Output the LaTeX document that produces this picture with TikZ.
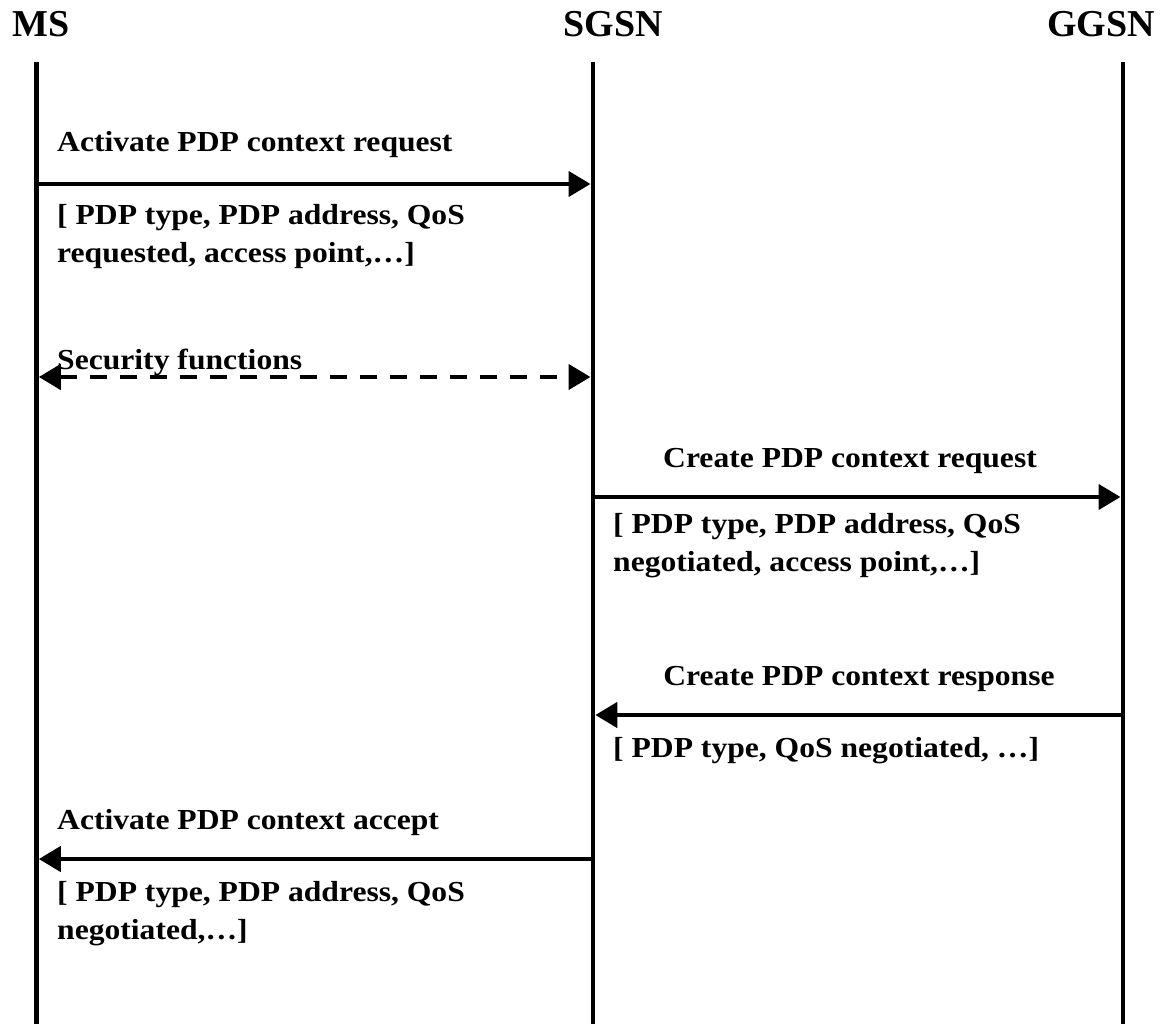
\documentclass[tikz,border=0pt]{standalone}
\usepackage{fontspec}
\setmainfont{Liberation Serif}
\newfontfamily\msgfont{Liberation Serif}[FakeStretch=1.09]
\usetikzlibrary{arrows.meta}
\begin{document}
\begin{tikzpicture}[x=1pt,y=-1pt,
  lifeline/.style={line width=4.5pt},
  head/.style={inner sep=0pt,anchor=base,font=\fontsize{38}{40}\selectfont\bfseries},
  lbl/.style={inner sep=0pt,anchor=base west,align=left,font=\msgfont\fontsize{29}{38}\selectfont\bfseries},
  clbl/.style={lbl,anchor=base},
  msg/.style={line width=4.5pt,-{Triangle[length=22pt,width=25pt]}},
  dmsg/.style={line width=4.5pt,dash pattern=on 17pt off 13pt,{Triangle[length=22pt,width=25pt]}-{Triangle[length=22pt,width=25pt]}}
]
\useasboundingbox (0,0) rectangle (1166,1024);

% entities
\node[head,anchor=base west] (msHead) at (12,37) {MS};
\node[head] (sgsnHead) at (613,37) {SGSN};
\node[head] (ggsnHead) at (1101,37) {GGSN};

% lifelines
\coordinate (msTop) at (36.5,62);   \coordinate (msBot) at (36.5,1024);
\coordinate (sgTop) at (593,62);    \coordinate (sgBot) at (593,1024);
\coordinate (ggTop) at (1123,62);   \coordinate (ggBot) at (1123,1024);
\draw[lifeline] (msTop) -- (msBot);
\draw[lifeline] (sgTop) -- (sgBot);
\draw[lifeline] (ggTop) -- (ggBot);

% message end points on the lifelines
\coordinate (m1a) at (36.5,184);  \coordinate (m1b) at (590.5,184);
\coordinate (m2a) at (38.8,377);  \coordinate (m2b) at (590.5,377);
\coordinate (m3a) at (593,497);   \coordinate (m3b) at (1120.5,497);
\coordinate (m4a) at (1123,715);  \coordinate (m4b) at (595.3,715);
\coordinate (m5a) at (593,859);   \coordinate (m5b) at (38.8,859);

% Activate PDP context request (two-line nodes sit on the baseline of their last line)
\node[lbl] (m1lbl) at (57,152) {Activate PDP context request};
\draw[msg] (m1a) -- (m1b);
\node[lbl] (m1par) at (57,262) {[ PDP type, PDP address, QoS\\requested, access point,…]};

% Security functions
\draw[dmsg] (m2a) -- (m2b);
\node[lbl] (m2lbl) at (57,369) {Security functions};

% Create PDP context request
\node[clbl] (m3lbl) at (850,467) {Create PDP context request};
\draw[msg] (m3a) -- (m3b);
\node[lbl] (m3par) at (613,571) {[ PDP type, PDP address, QoS\\negotiated, access point,…]};

% Create PDP context response
\node[clbl] (m4lbl) at (859,685) {Create PDP context response};
\draw[msg] (m4a) -- (m4b);
\node[lbl] (m4par) at (613,757) {[ PDP type, QoS negotiated, …]};

% Activate PDP context accept
\node[lbl] (m5lbl) at (57,829) {Activate PDP context accept};
\draw[msg] (m5a) -- (m5b);
\node[lbl] (m5par) at (57,939) {[ PDP type, PDP address, QoS\\negotiated,…]};
\end{tikzpicture}
\end{document}
